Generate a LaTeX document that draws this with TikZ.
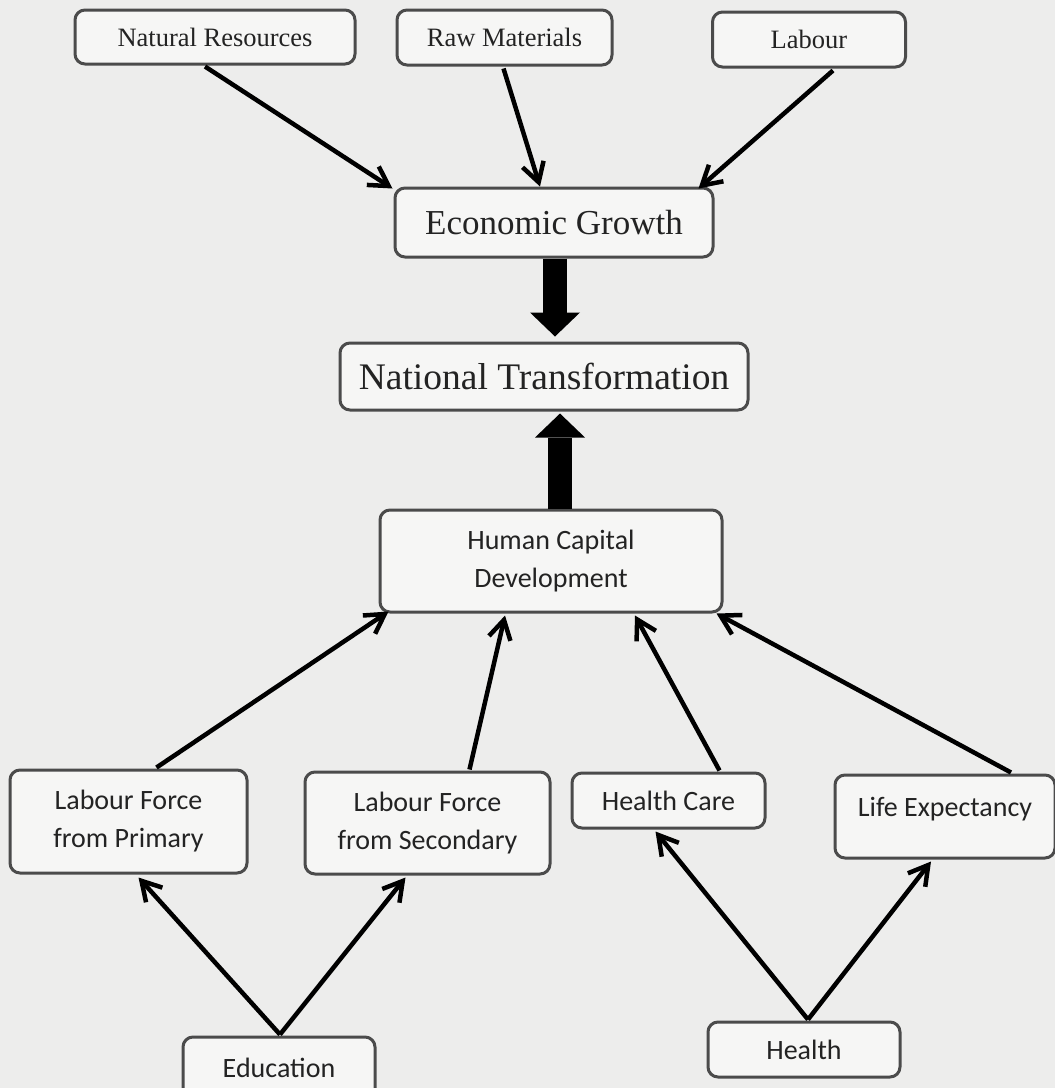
\documentclass[tikz,border=0pt]{standalone}
\usepackage{fontspec}
\setmainfont{Liberation Serif}
\newfontfamily\calfont{Carlito}
\usetikzlibrary{arrows.meta,calc}
\definecolor{bgcol}{RGB}{237,237,236}
\definecolor{boxfill}{RGB}{246,246,245}
\definecolor{edgecol}{RGB}{75,75,75}
\definecolor{ink}{RGB}{35,35,35}
\begin{document}
\begin{tikzpicture}[x=1pt,y=-1pt,
  box/.style={draw=edgecol,line width=3pt,rounded corners=10pt,fill=boxfill,inner sep=0pt,text=ink,align=center},
  serifsmall/.style={font=\fontsize{26.5}{30}\selectfont},
  serifmid/.style={font=\fontsize{35}{40}\selectfont},
  seriflarge/.style={font=\fontsize{37.5}{42}\selectfont},
  sanstext/.style={font=\calfont\fontsize{28}{38}\selectfont},
  link/.style={line width=4.5pt,draw=black,-{Straight Barb[length=19pt,width=22pt]}},
  blockarrow/.style={line width=24pt,draw=black,-{Triangle[length=24pt,width=50pt,line width=0pt]}}
]
\fill[bgcol] (0,0) rectangle (1055,1088);
\useasboundingbox (0,0) rectangle (1055,1088);
\clip (0,0) rectangle (1055,1088);

% top row
\node[box,serifsmall,minimum width=280pt,minimum height=54pt] (nr) at (215,37) {Natural Resources};
\node[box,serifsmall,minimum width=215pt,minimum height=55pt] (rm) at (504.5,37.5) {Raw Materials};
\node[box,serifsmall,minimum width=193pt,minimum height=55pt] (lab) at (809,39.5) {Labour};

% middle
\node[box,serifmid,minimum width=318pt,minimum height=69pt] (eg) at (554,222.5) {Economic Growth};
\node[box,seriflarge,minimum width=408pt,minimum height=67pt] (nt) at (544,376.5) {National Transformation};
\node[box,sanstext,minimum width=342pt,minimum height=102pt] (hcd) at (551,561) {Human Capital\\Development};

% lower row
\node[box,sanstext,minimum width=237pt,minimum height=103pt] (lfp) at (128.5,821.5) {Labour Force\\from Primary};
\node[box,sanstext,minimum width=245pt,minimum height=102pt] (lfs) at (427.5,823) {Labour Force\\from Secondary};
\node[box,sanstext,minimum width=193pt,minimum height=55pt] (hc) at (668.5,800.5) {Health Care};
\node[box,sanstext,minimum width=220pt,minimum height=83pt] (le) at (945,816.5) {\smash{Life Expectancy}};

% bottom
\node[box,sanstext,minimum width=192pt,minimum height=62pt] (edu) at (279,1068) {Education};
\node[box,sanstext,minimum width=192pt,minimum height=55pt] (hl) at (804,1049.5) {Health};

% arrows into Economic Growth
\draw[link] ($(nr.south)+(-10,1)$) -- ($(eg.north west)+(-1,2)$);
\draw[link] ($(rm.south)+(-1,2)$) -- ($(eg.north)+(-14,0)$);
\draw[link] ($(lab.south)+(24,2)$) -- ($(eg.north east)+(-16,2)$);

% block arrows
\coordinate (da1) at ($(eg.south)+(1,0)$);
\coordinate (da2) at (da1 |- nt.north);
\draw[blockarrow,shorten >=5pt] (da1) -- (da2);
\coordinate (ua1) at ($(hcd.north)+(9,0)$);
\coordinate (ua2) at (ua1 |- nt.south);
\draw[blockarrow,shorten >=2pt] (ua1) -- (ua2);

% arrows into Human Capital Development
\draw[link] ($(lfp.north)+(28,-1)$) -- ($(hcd.south west)+(10,-2)$);
\draw[link] ($(lfs.north)+(42,-1)$) -- ($(hcd.south)+(-46,2)$);
\draw[link] ($(hc.north)+(51,-1)$) -- ($(hcd.south)+(84,2)$);
\draw[link] ($(le.north)+(66,-1)$) -- ($(hcd.south east)+(-7,0)$);

% Education and Health
\draw[link] ($(edu.north)+(1,-1)$) -- ($(lfp.south)+(10,3)$);
\draw[link] ($(edu.north)+(1,-1)$) -- ($(lfs.south)+(-22,2)$);
\draw[link] ($(hl.north)+(4,-1)$) -- ($(hc.south)+(-13,2)$);
\draw[link] ($(hl.north)+(4,-1)$) -- ($(le.south)+(-14,2)$);
\end{tikzpicture}
\end{document}
